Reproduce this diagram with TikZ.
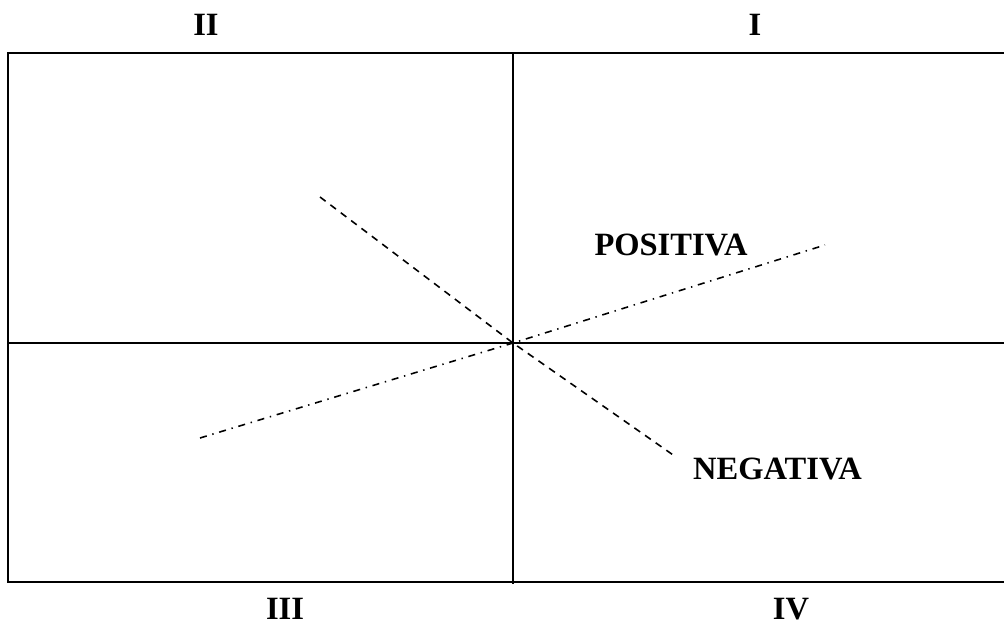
\documentclass[tikz,border=0pt]{standalone}
\usepackage{fontspec}
\setmainfont{Liberation Serif}
\usetikzlibrary{positioning}
\tikzset{
  axis/.style={draw=black,line width=1.1pt},
  negline/.style={draw=black,line width=.9pt,dash pattern=on 4pt off 3.4pt},
  posline/.style={draw=black,line width=.9pt,dash pattern=on 4pt off 3.3pt on .8pt off 3.3pt},
  quadrant/.style={font=\fontsize{18.5}{20}\selectfont\bfseries,text=black},
  tag/.style={font=\fontsize{18.5}{20}\selectfont\bfseries,text=black},
}
\begin{document}
\begin{tikzpicture}
  \useasboundingbox (0,0) rectangle (20.08,12.52);
  \draw[axis] (0.16,0.88) rectangle (20.4,11.46);
  \coordinate (O) at (10.26,5.66);
  \coordinate (top) at (10.26,11.46);
  \coordinate (bottom) at (10.26,0.84);
  \coordinate (left) at (0.16,5.66);
  \coordinate (right) at (20.4,5.66);
  \draw[axis] (top) -- (bottom);
  \draw[axis] (left) -- (right);
  % quadrant numbers
  \node[quadrant] (qII) at (4.12,12.02) {II};
  \node[quadrant] (qI) at (15.1,12.02) {I};
  \node[quadrant] (qIII) at (5.7,0.34) {III};
  \node[quadrant] (qIV) at (15.82,0.34) {IV};
  % correlation lines
  \coordinate (n1) at (6.4,8.58);
  \coordinate (n2) at (13.52,3.38);
  \coordinate (p1) at (4.0,3.76);
  \coordinate (p2) at (16.5,7.62);
  \draw[negline] (n1) -- (O) -- (n2);
  \draw[posline] (p1) -- (O) -- (p2);
  \node[tag] (pos) at (13.42,7.62) {POSITIVA};
  \node[tag] (neg) at (15.55,3.14) {NEGATIVA};
\end{tikzpicture}
\end{document}
